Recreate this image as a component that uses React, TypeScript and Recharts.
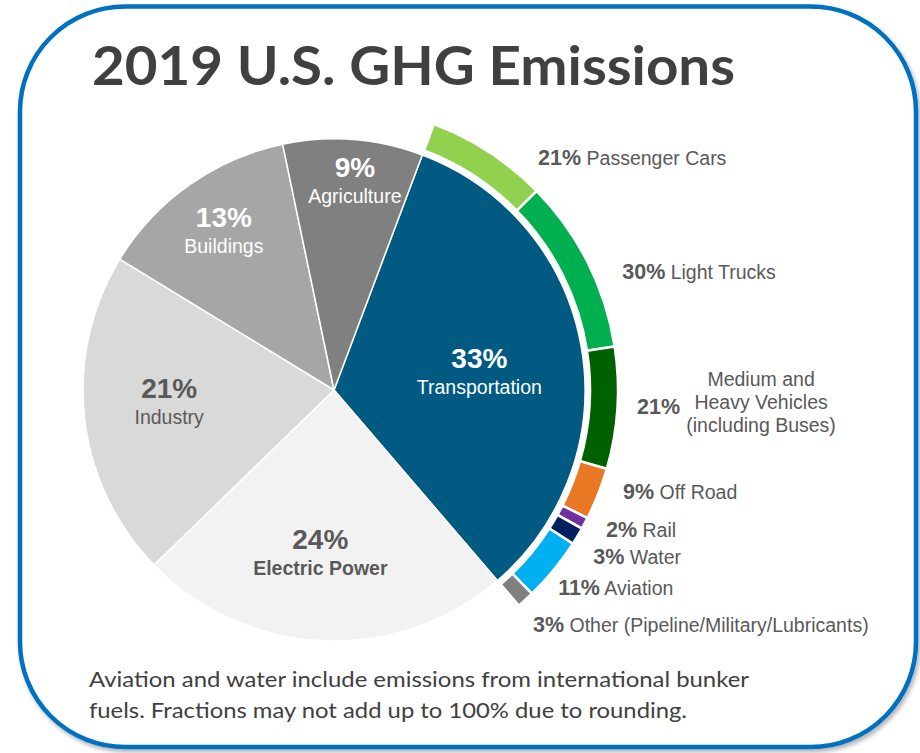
import React from "react";
import { PieChart, Pie, Cell } from "recharts";

// ---------- DATA ----------
const sectorNames = ["Transportation", "Electric Power", "Industry", "Buildings", "Agriculture"];
const sectorShares = [33, 24, 21, 13, 9];

const modeNames = [
  "Passenger Cars",
  "Light Trucks",
  "Medium and Heavy Vehicles (including Buses)",
  "Off Road",
  "Rail",
  "Water",
  "Aviation",
  "Other (Pipeline/Military/Lubricants)",
];
const modeShares = [21, 30, 21, 9, 2, 3, 11, 3];
const modeLabelLines = [
  ["Passenger Cars"],
  ["Light Trucks"],
  ["Medium and", "Heavy Vehicles", "(including Buses)"],
  ["Off Road"],
  ["Rail"],
  ["Water"],
  ["Aviation"],
  ["Other (Pipeline/Military/Lubricants)"],
];

const titleText = "2019 U.S. GHG Emissions";
const footnoteLines = [
  "Aviation and water include emissions from international bunker",
  "fuels. Fractions may not add up to 100% due to rounding.",
];

// ---------- STYLE ----------
const sectorColors = ["#005A82", "#F2F2F2", "#D9D9D9", "#A6A6A6", "#808080"];
const modeColors = ["#92D050", "#00B050", "#006100", "#E97825", "#7030A0", "#002060", "#00B0F0", "#808080"];
const DARK = "#595959";
const FONT = "'Liberation Sans', Arial, sans-serif";

// label placement (radius from centre, clockwise angle tweak in degrees)
const sectorLabelStyle: Record<string, { r: number; dA: number; color: string; boldName: boolean }> = {
  Transportation: { r: 147, dA: 1.4, color: "#FFFFFF", boldName: false },
  "Electric Power": { r: 160, dA: 2.3, color: DARK, boldName: true },
  Industry: { r: 165, dA: 3.6, color: DARK, boldName: false },
  Buildings: { r: 197, dA: 1.2, color: "#FFFFFF", boldName: false },
  Agriculture: { r: 214, dA: 1.2, color: "#FFFFFF", boldName: false },
};
const modeLabelPlace = [
  { r: 304, dA: 9.1 },
  { r: 309, dA: 5.5 },
  { r: 304, dA: 0.8 },
  { r: 309, dA: -0.8 },
  { r: 309, dA: 0.3 },
  { r: 312, dA: 2.8 },
  { r: 304, dA: 3.2 },
  { r: 313, dA: 2.9 },
];

const W = 920;
const H = 753;
const CX = 334;
const CY = 390;
const ROTATION = 69.4; // recharts start angle (deg, ccw from 3 o'clock)

const sectorData = sectorNames.map((name, i) => ({ name, value: sectorShares[i] }));
const modeData = modeNames.map((name, i) => ({ name, value: modeShares[i] }));

const sectorTotal = sectorShares.reduce((a, b) => a + b, 0);
const transportSpan = (360 * sectorShares[0]) / sectorTotal;

const RAD = Math.PI / 180;
function polarCW(cx: number, cy: number, r: number, thetaCW: number) {
  return { x: cx + r * Math.sin(thetaCW * RAD), y: cy - r * Math.cos(thetaCW * RAD) };
}

function renderSectorLabel(props: any) {
  const { cx, cy, midAngle, value } = props;
  const name = props.payload?.name ?? props.name;
  const st = sectorLabelStyle[name];
  if (!st) return null;
  const theta = 90 - midAngle + st.dA;
  const p = polarCW(cx, cy, st.r, theta);
  return (
    <g>
      <text x={p.x} y={p.y} textAnchor="middle" fill={st.color} fontFamily={FONT} fontWeight="bold" fontSize={28}>
        {`${value}%`}
      </text>
      <text
        x={p.x}
        y={p.y + 26}
        textAnchor="middle"
        fill={st.color}
        fontFamily={FONT}
        fontWeight={st.boldName ? "bold" : "normal"}
        fontSize={19.5}
      >
        {name}
      </text>
    </g>
  );
}

function renderModeLabel(props: any) {
  const { cx, cy, midAngle, value, index } = props;
  const place = modeLabelPlace[index];
  const lines = modeLabelLines[index];
  const theta = 90 - midAngle + place.dA;
  const p = polarCW(cx, cy, place.r, theta);
  if (lines.length > 1) {
    return (
      <g>
        <text x={p.x} y={p.y} textAnchor="start" fill={DARK} fontFamily={FONT} fontWeight="bold" fontSize={21.5}>
          {`${value}%`}
        </text>
        {lines.map((ln, k) => (
          <text
            key={k}
            x={p.x + 124}
            y={p.y - 28 + k * 23}
            textAnchor="middle"
            fill={DARK}
            fontFamily={FONT}
            fontSize={19.5}
          >
            {ln}
          </text>
        ))}
      </g>
    );
  }
  return (
    <text x={p.x} y={p.y} textAnchor="start" fill={DARK} fontFamily={FONT} fontSize={19.5}>
      <tspan fontWeight="bold" fontSize={21.5}>{`${value}%`}</tspan>
      <tspan>{` ${lines[0]}`}</tspan>
    </text>
  );
}

export default function App() {
  return (
    <div style={{ position: "absolute", left: 0, top: 0, width: W, height: H, background: "#fff", overflow: "hidden" }}>
      <svg width={W} height={H} style={{ position: "absolute", left: 0, top: 0 }}>
        <defs>
          <filter id="shadow" x="-5%" y="-5%" width="110%" height="110%">
            <feDropShadow dx="2" dy="3" stdDeviation="2" floodColor="#000" floodOpacity="0.3" />
          </filter>
        </defs>
        <rect
          x={20}
          y={6.5}
          width={896}
          height={740.5}
          rx={105}
          ry={105}
          fill="#fff"
          stroke="#0070C0"
          strokeWidth={4.5}
          filter="url(#shadow)"
        />
        <text
          x={92}
          y={85}
          fontFamily="Lato, 'Open Sans', sans-serif"
          fontWeight="bold"
          fontSize={54}
          fill="#404040"
          textLength={643}
          lengthAdjust="spacingAndGlyphs"
        >
          {titleText}
        </text>
        <text
          x={89}
          y={687}
          fontFamily="Lato, 'Open Sans', sans-serif"
          fontSize={21}
          fill="#404040"
          textLength={660}
          lengthAdjust="spacingAndGlyphs"
        >
          {footnoteLines[0]}
        </text>
        <text
          x={89}
          y={718}
          fontFamily="Lato, 'Open Sans', sans-serif"
          fontSize={21}
          fill="#404040"
          textLength={598}
          lengthAdjust="spacingAndGlyphs"
        >
          {footnoteLines[1]}
        </text>
      </svg>
      <div style={{ position: "absolute", left: 0, top: 0 }}>
        <PieChart width={W} height={H} margin={{ top: 0, right: 0, bottom: 0, left: 0 }}>
          <Pie
            data={sectorData}
            dataKey="value"
            nameKey="name"
            cx={CX}
            cy={CY}
            innerRadius={0}
            outerRadius={251}
            startAngle={ROTATION}
            endAngle={ROTATION - 360}
            stroke="#FFFFFF"
            strokeWidth={1.5}
            isAnimationActive={false}
            label={renderSectorLabel}
            labelLine={false}
          >
            {sectorData.map((d, i) => (
              <Cell key={d.name} fill={sectorColors[i]} />
            ))}
          </Pie>
          <Pie
            data={modeData}
            dataKey="value"
            nameKey="name"
            cx={CX}
            cy={CY}
            innerRadius={256}
            outerRadius={284}
            startAngle={ROTATION}
            endAngle={ROTATION - transportSpan}
            stroke="#FFFFFF"
            strokeWidth={2.5}
            isAnimationActive={false}
            label={renderModeLabel}
            labelLine={false}
          >
            {modeData.map((d, i) => (
              <Cell key={d.name} fill={modeColors[i]} />
            ))}
          </Pie>
        </PieChart>
      </div>
    </div>
  );
}
